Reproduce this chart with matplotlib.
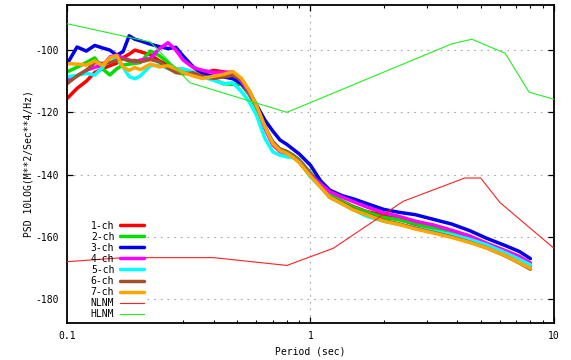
import matplotlib
matplotlib.use("Agg")
import matplotlib.pyplot as plt
from matplotlib.patches import Rectangle
from matplotlib.ticker import LogLocator, FixedLocator, NullFormatter, FixedFormatter

# Period grid (seconds) shared by all channel spectra
period = [0.10, 0.11, 0.12, 0.13, 0.14, 0.15, 0.16, 0.17, 0.18, 0.19, 0.20,
          0.22, 0.24, 0.26, 0.28, 0.30, 0.33, 0.36, 0.40, 0.44, 0.48,
          0.52, 0.56, 0.60, 0.65, 0.70, 0.75, 0.80, 0.85, 0.90, 1.0,
          1.1, 1.2, 1.35, 1.5, 1.7, 2.0, 2.3, 2.7, 3.2, 3.8,
          4.5, 5.3, 6.3, 7.2, 8.0]

# PSD in dB (10 log (m^2/s^4/Hz)) per channel
ch1 = [-115.6, -112.3, -110.0, -107.2, -106.0, -105.0, -104.2, -102.4, -101.3, -100.0, -100.5,
       -101.5, -103.5, -104.8, -106.0, -107.0, -107.3, -107.5, -106.5, -107.0, -107.5,
       -110.5, -114.0, -118.2, -125.0, -129.5, -131.8, -132.6, -133.8, -135.3, -139.5,
       -143.2, -146.5, -148.6, -150.3, -151.9, -153.0, -154.3, -156.0, -157.3, -158.7,
       -160.5, -162.6, -164.9, -167.0, -169.2]
ch2 = [-107.0, -105.5, -104.0, -102.5, -106.0, -108.0, -106.0, -104.8, -104.5, -104.3, -104.0,
       -100.3, -101.8, -104.0, -106.3, -106.5, -107.5, -108.1, -109.5, -110.8, -111.0,
       -111.0, -114.3, -118.5, -124.8, -129.7, -132.0, -132.8, -133.9, -135.5, -139.6,
       -143.3, -146.5, -148.6, -150.5, -152.0, -153.8, -154.5, -155.8, -157.2, -158.7,
       -160.4, -162.6, -165.0, -167.1, -169.4]
ch3 = [-104.5, -99.0, -100.3, -98.5, -99.3, -100.0, -101.6, -100.5, -95.4, -96.5, -97.0,
       -98.1, -98.9, -99.5, -99.1, -101.9, -105.4, -107.7, -108.4, -108.6, -109.2,
       -110.8, -113.5, -117.6, -122.5, -126.0, -128.9, -130.3, -131.9, -133.4, -137.0,
       -142.0, -145.0, -146.8, -147.8, -149.3, -151.2, -152.1, -152.9, -154.4, -155.9,
       -158.0, -160.5, -162.8, -164.7, -167.0]
ch4 = [-109.7, -108.3, -106.5, -105.5, -105.0, -102.2, -101.6, -102.5, -103.2, -103.7, -103.2,
       -102.7, -99.5, -97.6, -100.0, -103.2, -105.6, -106.5, -107.2, -107.2, -107.0,
       -110.0, -113.8, -118.0, -125.2, -130.5, -132.6, -133.3, -134.3, -135.8, -140.0,
       -143.0, -145.5, -147.3, -148.7, -150.4, -152.3, -153.4, -155.0, -156.2, -157.9,
       -159.7, -162.1, -164.4, -166.3, -168.4]
ch5 = [-108.6, -108.1, -107.5, -108.0, -105.5, -102.5, -102.6, -105.5, -108.5, -109.2, -108.3,
       -105.0, -104.8, -105.9, -106.0, -106.0, -107.0, -108.6, -109.7, -110.8, -110.5,
       -113.3, -116.6, -120.9, -128.4, -132.7, -133.8, -134.3, -134.6, -135.9, -140.8,
       -144.0, -147.3, -149.5, -151.3, -153.4, -155.0, -156.0, -157.1, -158.2, -159.3,
       -160.8, -162.6, -165.1, -167.2, -169.0]
ch6 = [-110.8, -108.3, -106.5, -104.0, -104.3, -104.0, -103.3, -102.8, -103.5, -103.3, -103.8,
       -103.0, -103.8, -105.8, -107.2, -107.6, -107.3, -108.4, -109.1, -108.6, -108.1,
       -109.5, -113.0, -117.8, -124.5, -129.8, -132.2, -133.0, -134.2, -136.0, -140.2,
       -143.8, -147.3, -149.2, -151.2, -152.8, -154.8, -155.8, -157.3, -158.6, -160.0,
       -161.7, -163.6, -166.1, -168.4, -170.4]
ch7 = [-104.3, -104.5, -104.8, -103.5, -105.0, -102.5, -101.7, -105.5, -106.5, -105.6, -106.3,
       -104.5, -105.4, -105.0, -106.0, -107.2, -108.3, -109.1, -108.4, -107.8, -106.9,
       -109.0, -113.0, -117.8, -124.6, -130.0, -132.3, -133.2, -134.5, -136.2, -140.5,
       -144.0, -147.3, -149.4, -151.4, -152.9, -155.0, -156.0, -157.5, -158.8, -160.2,
       -161.8, -163.6, -166.0, -168.3, -170.1]

channels = [ch1, ch2, ch3, ch4, ch5, ch6, ch7]
channel_labels = ["1-ch", "2-ch", "3-ch", "4-ch", "5-ch", "6-ch", "7-ch"]
channel_colors = ["#ff0000", "#00dd00", "#0000ee", "#ff00ff", "#00ffff", "#a0522d", "#ffa500"]

# Peterson new low / high noise models (breakpoints)
nlnm_period = [0.10, 0.17, 0.40, 0.80, 1.24, 2.40, 4.30, 5.00, 6.00, 10.0]
nlnm_db = [-168.0, -166.7, -166.7, -169.2, -163.7, -148.6, -141.1, -141.1, -149.0, -163.7]
hlnm_period = [0.10, 0.22, 0.32, 0.80, 3.80, 4.60, 6.30, 7.90, 10.0]
hlnm_db = [-91.5, -97.4, -110.5, -120.0, -98.0, -96.5, -101.0, -113.5, -115.8]

y_ticks = [-180, -160, -140, -120, -100]
x_ticks = [0.1, 1, 10]
x_tick_labels = ["0.1", "1", "10"]

plt.rcParams["font.family"] = ["DejaVu Sans Mono"]
plt.rcParams["axes.unicode_minus"] = False

fig = plt.figure(figsize=(5.71, 3.60), dpi=100)
ax = fig.add_axes([0.1173, 0.1028, 0.8529, 0.8833])
ax.set_xscale("log")
ax.set_xlim(0.1, 10)
ax.set_ylim(-187.7, -85.5)
ax.set_axisbelow(True)

for vals, lab, col in zip(channels, channel_labels, channel_colors):
    ax.plot(period, vals, color=col, lw=2.5, label=lab, zorder=2,
            solid_joinstyle="round", solid_capstyle="round")
ax.plot(nlnm_period, nlnm_db, color="#ff2020", lw=0.8, label="NLNM", zorder=3)
ax.plot(hlnm_period, hlnm_db, color="#22ee22", lw=0.8, label="HLNM", zorder=3)

# key area stays clear of grid dots
ax.add_patch(Rectangle((0, 0), 0.164, 0.33, transform=ax.transAxes,
                       facecolor="white", edgecolor="none", zorder=1))

ax.xaxis.set_major_locator(FixedLocator(x_ticks))
ax.xaxis.set_major_formatter(FixedFormatter(x_tick_labels))
ax.xaxis.set_minor_locator(LogLocator(base=10, subs=range(2, 10)))
ax.xaxis.set_minor_formatter(NullFormatter())
ax.yaxis.set_major_locator(FixedLocator(y_ticks))

ax.tick_params(which="both", direction="in", top=True, right=True,
               labelsize=7, colors="black")
ax.tick_params(which="major", length=4.5, width=0.9)
ax.tick_params(which="minor", length=2.5, width=0.8)
ax.tick_params(axis="y", pad=6)
ax.tick_params(axis="x", pad=6)

ax.grid(True, which="major", color="#a8a8a8", lw=0.8, linestyle=(0, (1.5, 4.5)))
for sp in ax.spines.values():
    sp.set_linewidth(1.3)

ax.set_xlabel("Period (sec)", fontsize=7, labelpad=4)
ax.set_ylabel("PSD 10LOG(M**2/Sec**4/Hz)", fontsize=7, labelpad=1)

leg = ax.legend(loc="lower left", bbox_to_anchor=(0.045, 0.006), frameon=False,
                fontsize=7, markerfirst=False, handlelength=2.4, handletextpad=0.6,
                labelspacing=0.11, borderpad=0.2, borderaxespad=0.0)
leg.set_zorder(5)

fig.savefig("out.png", dpi=100)
